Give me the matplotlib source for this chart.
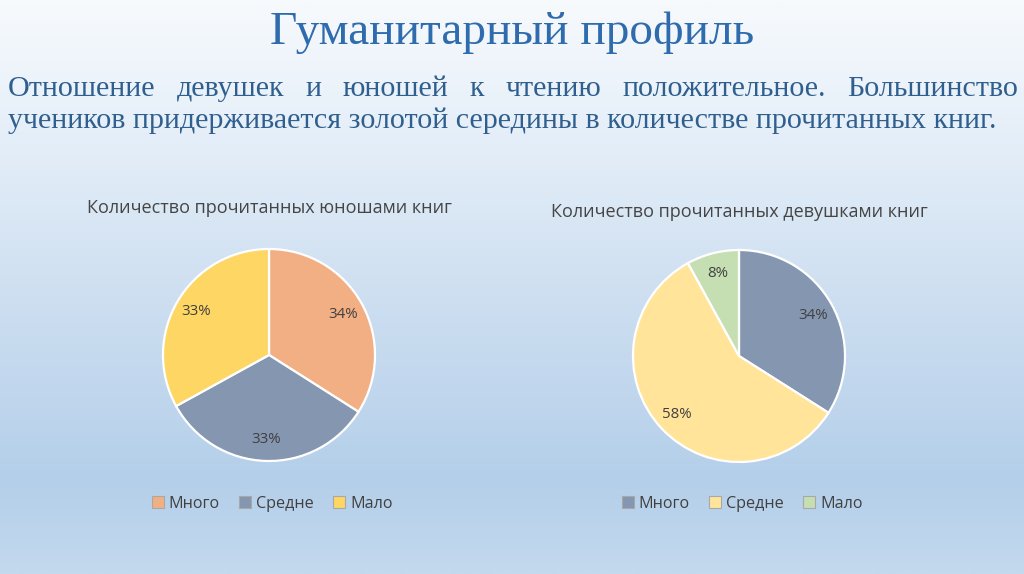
import numpy as np
import matplotlib
matplotlib.use("Agg")
import matplotlib.pyplot as plt
from matplotlib.colors import LinearSegmentedColormap
from matplotlib.patches import Patch

# ---- data ----
main_title = "Гуманитарный профиль"
body_line1 = "Отношение девушек и юношей к чтению положительное. Большинство"
body_line2 = "учеников придерживается золотой середины в количестве прочитанных книг."

categories = ["Много", "Средне", "Мало"]
boys_title = "Количество прочитанных юношами книг"
boys_values = [34, 33, 33]
boys_colors = ["#F3AF84", "#8496B0", "#FDD663"]
girls_title = "Количество прочитанных девушками книг"
girls_values = [34, 58, 8]
girls_colors = ["#8496B0", "#FFE49A", "#C5DFB3"]

W, H = 1024, 574
fig = plt.figure(figsize=(W / 100, H / 100), dpi=100)
ax = fig.add_axes([0, 0, 1, 1])
ax.set_xlim(0, W)
ax.set_ylim(0, H)
ax.axis("off")

# background gradient (top -> bottom)
stops = [(0.0, "#F7FAFD"), (0.25, "#E4EEF8"), (0.55, "#CBDDF0"),
         (0.84, "#B4CFEA"), (1.0, "#C3D9EE")]
cmap = LinearSegmentedColormap.from_list("bg", stops)
grad = np.linspace(0, 1, 300).reshape(-1, 1)
ax.imshow(grad, cmap=cmap, extent=(0, W, 0, H), origin="upper",
          aspect="auto", zorder=0, interpolation="bilinear")

def Y(py):
    return H - py

# main title
ax.text(512, Y(33), main_title, fontsize=34, family="Liberation Serif",
        color="#2F6CAD", ha="center", va="center", zorder=5)

# body text, first line justified
body_color = "#2F5F8F"
body_font = dict(fontsize=21.6, family="Liberation Serif", color=body_color, zorder=5)
words = body_line1.split(" ")
fig.canvas.draw()
renderer = fig.canvas.get_renderer()
tmp = [ax.text(0, 0, w, **body_font) for w in words]
widths = [t.get_window_extent(renderer).width for t in tmp]
for t in tmp:
    t.remove()
left, right = 8, 1018
gap = (right - left - sum(widths)) / (len(words) - 1)
x = left
for w, wd in zip(words, widths):
    ax.text(x, Y(96), w, ha="left", va="baseline", **body_font)
    x += wd + gap
ax.text(left, Y(128), body_line2, ha="left", va="baseline", **body_font)

label_color = "#404040"
sans = "Open Sans"

def draw_pie(cx, cy, r, values, colors, title, title_y, legend_x, legend_y):
    wedges, _, autotexts = ax.pie(
        values, colors=colors, startangle=90, counterclock=False,
        center=(cx, Y(cy)), radius=r, frame=True,
        autopct=lambda p: f"{p:.0f}%", pctdistance=0.8,
        wedgeprops=dict(edgecolor="white", linewidth=1.6),
        textprops=dict(fontsize=10.8, color=label_color, family=sans))
    for w in wedges:
        w.set_zorder(3)
    for t in autotexts:
        t.set_zorder(4)
    ax.text(cx, Y(title_y), title, fontsize=13, color="#454545",
            family=sans, ha="center", va="center", zorder=5)
    handles = [Patch(facecolor=c, edgecolor="#A8A8A8", linewidth=0.8) for c in colors]
    leg = fig.legend(handles, categories, loc="center",
                     bbox_to_anchor=(legend_x / W, 1 - legend_y / H),
                     ncol=3, frameon=False,
                     handlelength=0.75, handleheight=0.75, handletextpad=0.3,
                     columnspacing=1.2,
                     prop=dict(family=sans, size=11.6))
    for t in leg.get_texts():
        t.set_color("#404040")

draw_pie(269, 355, 106, boys_values, boys_colors, boys_title, 208, 272, 504)
draw_pie(739, 356, 106, girls_values, girls_colors, girls_title, 212, 742, 504)

ax.set_xlim(0, W)
ax.set_ylim(0, H)
ax.set_aspect("auto")

fig.savefig("out.png", dpi=100)
